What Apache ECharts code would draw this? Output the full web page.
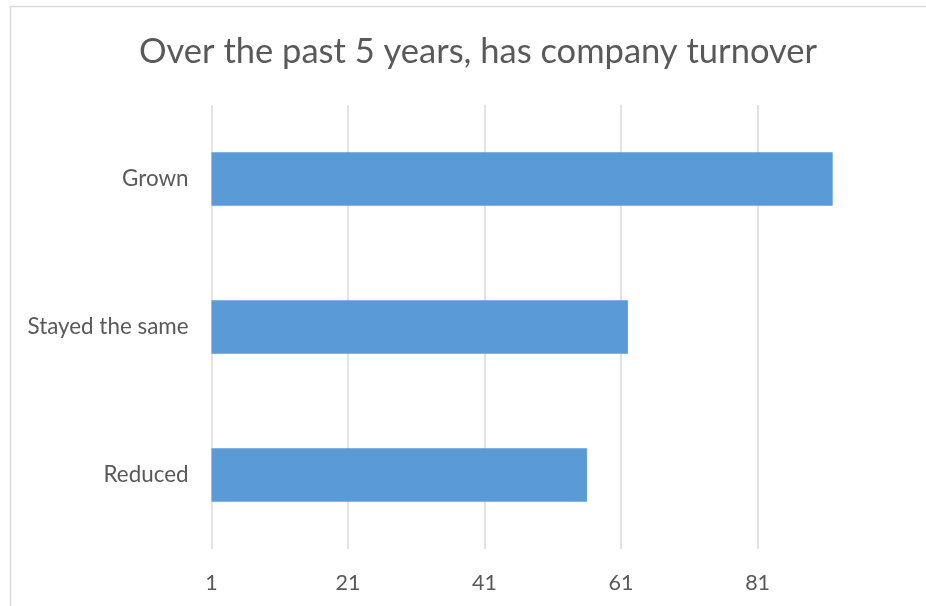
<!DOCTYPE html>
<html>
<head>
<meta charset="utf-8">
<script src="https://cdn.jsdelivr.net/npm/echarts@6/dist/echarts.min.js"></script>
<style>
  html, body { margin: 0; padding: 0; background: #ffffff; }
  #chart { width: 926px; height: 606px; }
</style>
</head>
<body>
<div id="chart"></div>
<script>
// Survey answers, listed bottom to top as the category axis draws them
const categories = ['Reduced', 'Stayed the same', 'Grown'];
const responses = [56, 62, 92];
const axisMin = 1;
const axisMax = 96;
const tickStep = 20;

const chart = echarts.init(document.getElementById('chart'));
chart.setOption({
  backgroundColor: '#ffffff',
  animation: false,
  textStyle: { fontFamily: 'Lato, "Open Sans", sans-serif' },
  title: {
    text: 'Over the past 5 years, has company turnover',
    left: 473,
    top: 29,
    textAlign: 'center',
    textStyle: {
      fontFamily: 'Lato, "Open Sans", sans-serif',
      fontSize: 34.5,
      fontWeight: 'normal',
      color: '#595959'
    }
  },
  graphic: [
    { type: 'line', shape: { x1: 10, y1: 6.5, x2: 926, y2: 6.5 }, style: { stroke: '#d9d9d9', lineWidth: 1.5 } },
    { type: 'line', shape: { x1: 10.5, y1: 6, x2: 10.5, y2: 606 }, style: { stroke: '#d9d9d9', lineWidth: 1.5 } }
  ],
  grid: { left: 211.5, right: 66, top: 105, bottom: 57, containLabel: false },
  xAxis: {
    type: 'value',
    min: axisMin,
    max: axisMax,
    interval: tickStep,
    axisLine: { show: false },
    axisTick: { show: false },
    axisLabel: {
      showMaxLabel: false,
      margin: 23,
      fontSize: 21.5,
      color: '#595959'
    },
    splitLine: {
      show: true,
      showMaxLine: false,
      lineStyle: { color: '#d9d9d9', width: 1.5 }
    }
  },
  yAxis: {
    type: 'category',
    data: categories,
    axisLine: { show: false },
    axisTick: { show: false },
    axisLabel: { margin: 23, fontSize: 22.4, color: '#595959' }
  },
  series: [{
    type: 'bar',
    data: responses,
    barCategoryGap: '64%',
    itemStyle: { color: '#5b9bd5' }
  }]
});
</script>
</body>
</html>
